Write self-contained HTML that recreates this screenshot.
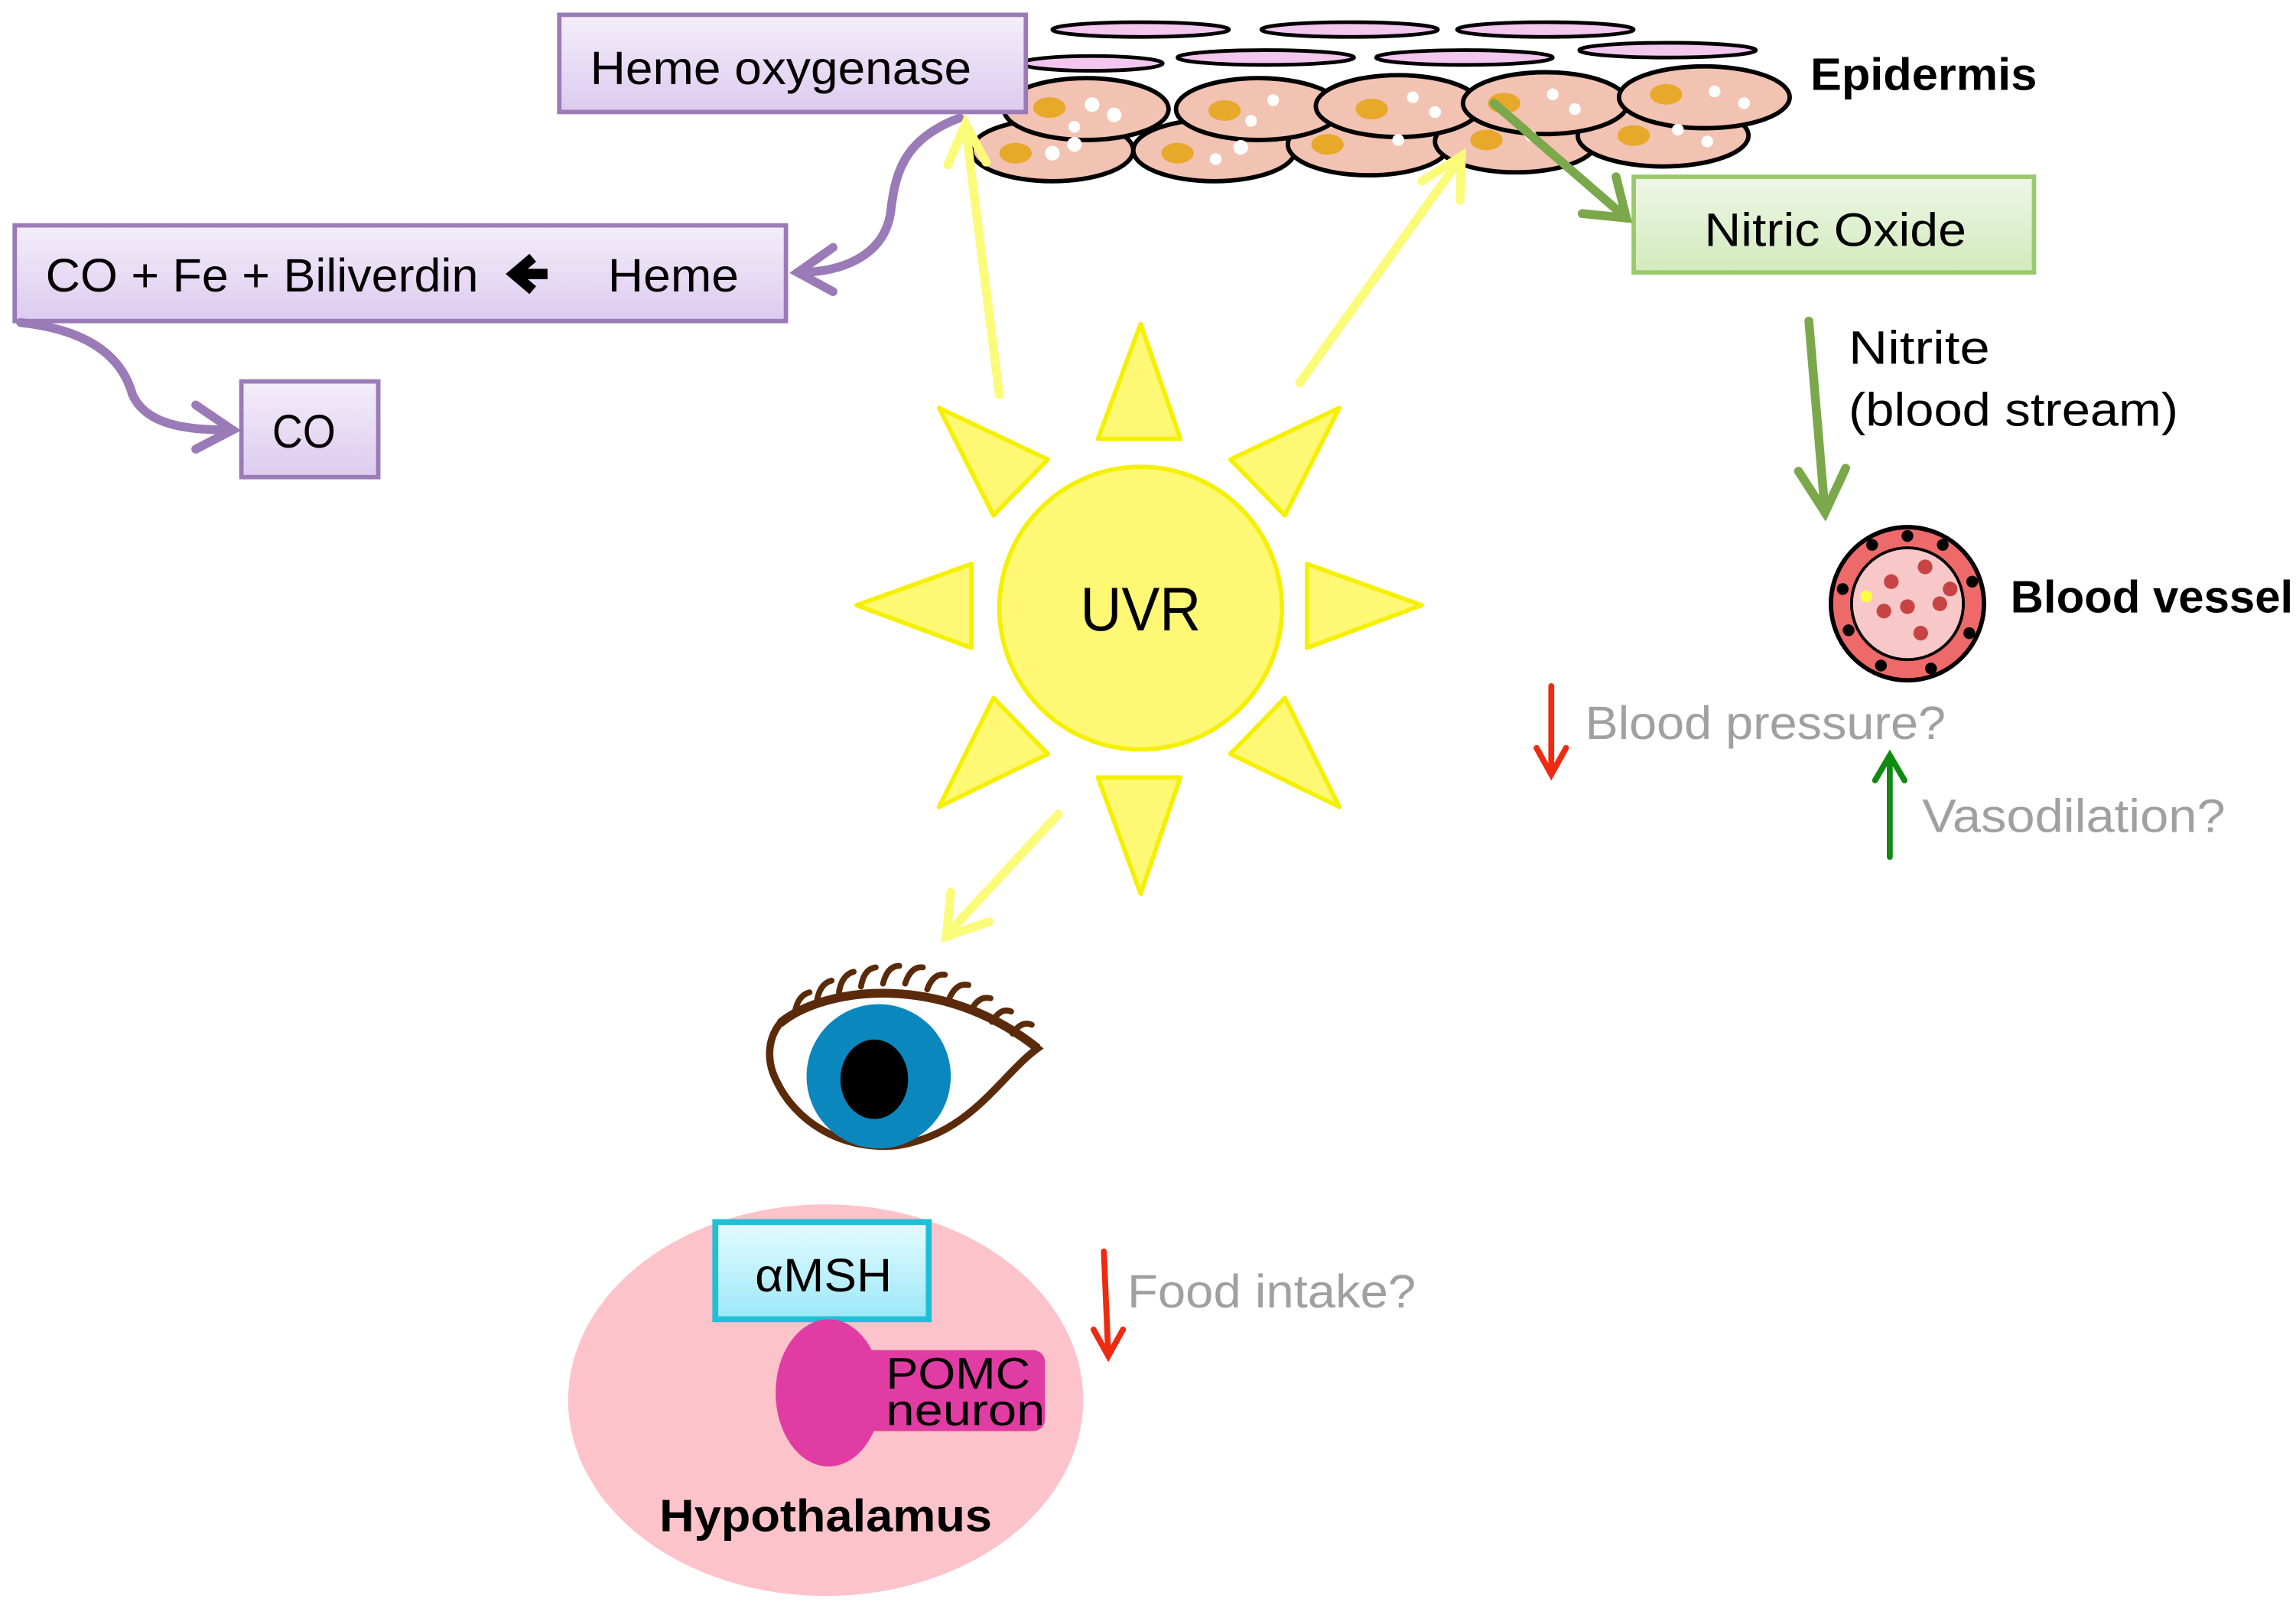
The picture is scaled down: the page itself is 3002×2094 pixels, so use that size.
<!DOCTYPE html>
<html><head><meta charset="utf-8"><style>
html,body{margin:0;padding:0;background:#fff;}
svg{display:block;}
text{font-family:"Liberation Sans",sans-serif;}
</style></head><body>
<svg width="3002" height="2094" viewBox="0 0 1560 1088" xmlns="http://www.w3.org/2000/svg">
<defs>
<linearGradient id="pg" x1="0" y1="0" x2="0" y2="1"><stop offset="0" stop-color="#f4eefa"/><stop offset="1" stop-color="#dccbef"/></linearGradient>
<linearGradient id="gg" x1="0" y1="0" x2="0" y2="1"><stop offset="0" stop-color="#eef7e6"/><stop offset="1" stop-color="#d2eabd"/></linearGradient>
<linearGradient id="cg" x1="0" y1="0" x2="0" y2="1"><stop offset="0" stop-color="#e6fbff"/><stop offset="1" stop-color="#9be8f8"/></linearGradient>
</defs>

<g fill="#f3c6ee" stroke="#000" stroke-width="2.5">
<ellipse cx="775" cy="20" rx="60" ry="5"/><ellipse cx="917" cy="20" rx="60" ry="5"/><ellipse cx="1050" cy="20" rx="60" ry="5"/>
<ellipse cx="742" cy="43" rx="48" ry="5"/><ellipse cx="860" cy="39" rx="60" ry="5"/><ellipse cx="995" cy="39" rx="60" ry="5"/><ellipse cx="1133" cy="34" rx="60" ry="5"/>
</g>
<g stroke="#000" stroke-width="3" fill="#f2c2b2">
<ellipse cx="715" cy="102" rx="55" ry="21"/><ellipse cx="825" cy="102" rx="55" ry="21"/><ellipse cx="930" cy="98" rx="55" ry="21"/><ellipse cx="1030" cy="96" rx="55" ry="21"/><ellipse cx="1130" cy="92" rx="58" ry="21"/>
<ellipse cx="738" cy="74" rx="56" ry="21"/><ellipse cx="855" cy="74" rx="56" ry="21"/><ellipse cx="950" cy="72" rx="56" ry="21"/><ellipse cx="1050" cy="70" rx="56" ry="21"/><ellipse cx="1158" cy="66" rx="58" ry="21"/>
</g>
<g fill="#e8a82a">
<ellipse cx="713" cy="73" rx="11" ry="7"/><ellipse cx="832" cy="75" rx="11" ry="7"/><ellipse cx="932" cy="74" rx="11" ry="7"/><ellipse cx="1022" cy="70" rx="11" ry="7"/><ellipse cx="1132" cy="64" rx="11" ry="7"/>
<ellipse cx="690" cy="104" rx="11" ry="7"/><ellipse cx="800" cy="104" rx="11" ry="7"/><ellipse cx="902" cy="98" rx="11" ry="7"/><ellipse cx="1010" cy="95" rx="11" ry="7"/><ellipse cx="1110" cy="92" rx="11" ry="7"/>
</g>
<g fill="#fff">
<circle cx="742" cy="71" r="5"/><circle cx="757" cy="78" r="5"/><circle cx="730" cy="86" r="4"/><circle cx="865" cy="68" r="4"/><circle cx="850" cy="82" r="4"/><circle cx="960" cy="66" r="4"/><circle cx="975" cy="76" r="4"/><circle cx="1055" cy="64" r="4"/><circle cx="1070" cy="74" r="4"/><circle cx="1165" cy="62" r="4"/><circle cx="1185" cy="70" r="4"/>
<circle cx="715" cy="104" r="5"/><circle cx="730" cy="98" r="5"/><circle cx="843" cy="100" r="5"/><circle cx="826" cy="108" r="4"/><circle cx="950" cy="95" r="4"/><circle cx="1040" cy="92" r="4"/><circle cx="1140" cy="88" r="4"/><circle cx="1160" cy="96" r="4"/>
</g>

<g stroke="#9a7bb8" stroke-width="3" fill="url(#pg)">
<rect x="380" y="10" width="317" height="66"/>
<rect x="10" y="153" width="524" height="65"/>
<rect x="164" y="259" width="93" height="65"/>
</g>
<text x="401" y="57" font-size="32" textLength="259" lengthAdjust="spacingAndGlyphs">Heme oxygenase</text>
<text x="31" y="198" font-size="32" textLength="294" lengthAdjust="spacingAndGlyphs">CO + Fe + Biliverdin</text>
<path d="M372 186 H350 M362 175 L349 186 L362 197" stroke="#000" stroke-width="7" fill="none"/>
<text x="413" y="198" font-size="32" textLength="89" lengthAdjust="spacingAndGlyphs">Heme</text>
<text x="185" y="304" font-size="32" textLength="43" lengthAdjust="spacingAndGlyphs">CO</text>

<g stroke="#9a7bb8" stroke-width="6" fill="none" stroke-linecap="round">
<path d="M652 80 C612 95 608 120 605 145 C600 175 570 185 542 185"/>
<path d="M566 168 L542 185 L566 198"/>
<path d="M14 219 C70 225 85 250 90 268 C100 290 130 292 158 292"/>
<path d="M133 275 L158 292 L133 305"/>
</g>

<rect x="1110" y="120" width="272" height="65" fill="url(#gg)" stroke="#9bc86a" stroke-width="3"/>
<text x="1158" y="167" font-size="32" textLength="178" lengthAdjust="spacingAndGlyphs">Nitric Oxide</text>
<text x="1230" y="61" font-size="31" font-weight="bold" textLength="154" lengthAdjust="spacingAndGlyphs">Epidermis</text>

<g stroke="#7aa84a" stroke-width="6" fill="none" stroke-linecap="round">
<path d="M1015 70 L1105 148"/><path d="M1075 145 L1105 148 L1098 120"/>
<path d="M1229 218 L1240 348"/><path d="M1222 320 L1240 348 L1254 318"/>
</g>
<text x="1256" y="247" font-size="32" textLength="96" lengthAdjust="spacingAndGlyphs">Nitrite</text>
<text x="1256" y="289" font-size="32" textLength="224" lengthAdjust="spacingAndGlyphs">(blood stream)</text>

<circle cx="1296" cy="410" r="52" fill="#ee6a6a" stroke="#000" stroke-width="3"/>
<circle cx="1296" cy="410" r="38" fill="#f8c8c8" stroke="#000" stroke-width="2"/>
<g fill="#000"><circle cx="1296" cy="364" r="4"/><circle cx="1320" cy="370" r="4"/><circle cx="1272" cy="370" r="4"/><circle cx="1340" cy="395" r="4"/><circle cx="1252" cy="400" r="4"/><circle cx="1338" cy="430" r="4"/><circle cx="1256" cy="428" r="4"/><circle cx="1312" cy="454" r="4"/><circle cx="1278" cy="452" r="4"/></g>
<g fill="#c84444"><circle cx="1308" cy="385" r="5"/><circle cx="1285" cy="395" r="5"/><circle cx="1318" cy="410" r="5"/><circle cx="1296" cy="412" r="5"/><circle cx="1280" cy="415" r="5"/><circle cx="1305" cy="430" r="5"/><circle cx="1325" cy="400" r="5"/></g>
<circle cx="1268" cy="405" r="4" fill="#ffff40"/>
<text x="1366" y="416" font-size="31" font-weight="bold" textLength="192" lengthAdjust="spacingAndGlyphs">Blood vessel</text>

<g stroke-width="4" fill="none" stroke-linecap="round">
<path d="M1054 466 L1054 525 M1044 508 L1054 526 L1064 508" stroke="#ee2a10"/>
<path d="M1284 582 L1284 514 M1274 530 L1284 513 L1294 530" stroke="#108a10"/>
<path d="M750 850 L753 920 M743 903 L753 921 L763 903" stroke="#ee2a10"/>
</g>
<text x="1077" y="502" font-size="32" fill="#a0a0a0" textLength="245" lengthAdjust="spacingAndGlyphs">Blood pressure?</text>
<text x="1306" y="565" font-size="32" fill="#a0a0a0" textLength="206" lengthAdjust="spacingAndGlyphs">Vasodilation?</text>
<text x="766" y="888" font-size="32" fill="#a0a0a0" textLength="196" lengthAdjust="spacingAndGlyphs">Food intake?</text>

<g fill="#fff874" stroke="#f5f000" stroke-width="3" stroke-linejoin="round">
<circle cx="775" cy="413" r="96"/>
<polygon points="775,220 746,298 802,298"/>
<polygon points="775,607 746,528 802,528"/>
<polygon points="582,411 660,383 660,440"/>
<polygon points="966,411 888,383 888,440"/>
<polygon points="638,277 712,312 675,350"/>
<polygon points="910,277 836,312 873,350"/>
<polygon points="638,548 675,474 712,512"/>
<polygon points="910,548 873,474 836,512"/>
</g>
<text x="734" y="428" font-size="42" textLength="82" lengthAdjust="spacingAndGlyphs">UVR</text>

<g stroke="#fbfb7a" stroke-width="6" fill="none" stroke-linecap="round">
<path d="M679 268 L656 86"/><path d="M644 112 L656 84 L670 110"/>
<path d="M883 260 L992 108"/><path d="M966 123 L993 106 L992 136"/>
<path d="M719 553 L644 634"/><path d="M646 606 L643 636 L672 626"/>
</g>

<path d="M530 695 C560 670 640 660 705 712 C680 730 660 770 610 778 C570 782 540 760 528 735 C520 720 522 705 530 695 Z" fill="#fff" stroke="#5a2a0a" stroke-width="5"/>
<circle cx="597" cy="731" r="49" fill="#0a88be"/>
<ellipse cx="594" cy="733" rx="23" ry="27" fill="#000"/>
<path d="M530 695 C560 670 640 660 705 712" fill="none" stroke="#5a2a0a" stroke-width="6"/>
<g stroke="#5a2a0a" stroke-width="4" fill="none" stroke-linecap="round">
<path d="M540 688 q2-12 10-14"/><path d="M555 680 q2-12 10-14"/><path d="M570 674 q2-12 10-14"/><path d="M585 670 q2-12 10-13"/><path d="M600 668 q3-12 11-12"/><path d="M615 668 q4-12 12-11"/><path d="M630 672 q4-11 12-10"/><path d="M645 678 q5-11 13-9"/><path d="M660 686 q5-10 13-8"/><path d="M674 694 q6-10 13-7"/><path d="M688 702 q6-9 13-6"/>
</g>

<ellipse cx="561" cy="951" rx="175" ry="133" fill="#fdc3ca"/>
<rect x="486" y="830" width="145" height="66" fill="url(#cg)" stroke="#1ec0d8" stroke-width="4"/>
<text x="513" y="877" font-size="32" textLength="93" lengthAdjust="spacingAndGlyphs">αMSH</text>
<rect x="585" y="917" width="125" height="55" rx="8" fill="#e03ca3"/>
<ellipse cx="563" cy="946" rx="36" ry="50" fill="#e03ca3"/>
<text x="602" y="943" font-size="30" textLength="98" lengthAdjust="spacingAndGlyphs">POMC</text>
<text x="602" y="968" font-size="30" textLength="108" lengthAdjust="spacingAndGlyphs">neuron</text>
<text x="448" y="1040" font-size="31" font-weight="bold" textLength="226" lengthAdjust="spacingAndGlyphs">Hypothalamus</text>
</svg>
</body></html>
